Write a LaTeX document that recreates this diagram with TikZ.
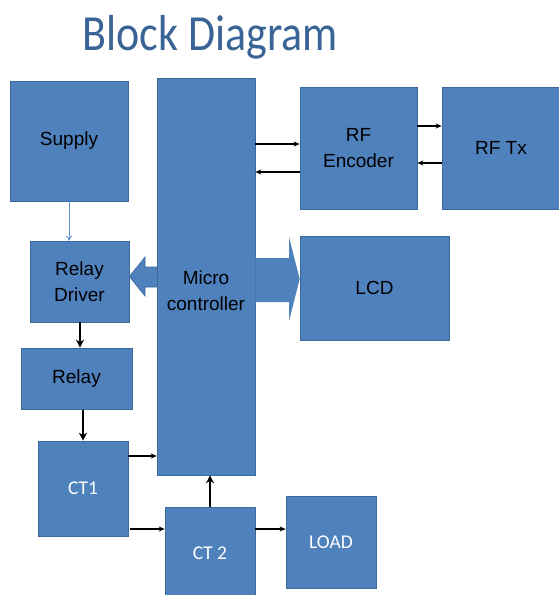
\documentclass[tikz,border=0pt]{standalone}
\usepackage{fontspec}
\setmainfont{Liberation Sans}
\newfontfamily\calib{Carlito}
\usetikzlibrary{arrows.meta}
\definecolor{boxblue}{HTML}{4F81BD}
\definecolor{boxedge}{HTML}{3C6A9E}
\definecolor{titleblue}{HTML}{3A6496}
\definecolor{thinblue}{HTML}{5B8FD0}
\tikzset{
  box/.style={rectangle, fill=boxblue, draw=boxedge, line width=0.6pt, inner sep=0pt, align=center,
    font=\fontsize{19}{26}\selectfont},
  wbox/.style={box, text=white, font=\calib\fontsize{19.5}{22}\selectfont},
  thinarr/.style={-{Stealth[length=6pt,width=5pt]}, line width=1.3pt, black},
  thickarr/.style={-{Stealth[length=8pt,width=8pt]}, line width=2.8pt, black},
  fatarrow/.style={fill=boxblue, draw=boxedge, line width=0.6pt}
}
\begin{document}
\begin{tikzpicture}[x=1pt,y=-1pt]
\useasboundingbox (0,0) rectangle (559,595);
\node[anchor=base, text=titleblue, font=\calib\fontsize{44}{50}\selectfont] (title) at (210,50) {\scalebox{1}[1.15]{Block Diagram}};
\node[box, minimum width=118, minimum height=120] (supply) at (69,141) {Supply};
\node[box, minimum width=98, minimum height=397] (micro) at (206,276.5) {};
\node[font=\fontsize{19}{26}\selectfont, align=center] (microtxt) at (206,291) {Micro\\controller};
\node[box, minimum width=99, minimum height=81] (driver) at (79.5,281.5) {Relay\\Driver};
\node[box, minimum width=111, minimum height=61] (relay) at (76.5,378.5) {Relay};
\node[wbox, minimum width=90, minimum height=95] (ct1) at (83,488.5) {CT1};
\node[wbox, minimum width=90, minimum height=92] (ct2) at (210,553) {CT 2};
\node[wbox, minimum width=90, minimum height=92] (load) at (331,542) {LOAD};
\node[box, minimum width=117, minimum height=122] (enc) at (358.5,148) {RF\\Encoder};
\node[box, minimum width=118, minimum height=122] (tx) at (501,148) {RF Tx};
\node[box, minimum width=149, minimum height=104] (lcd) at (374.5,288) {LCD};
% fat arrows
\draw[fatarrow] (micro.west |- 0,267) -- (145,267) -- (145,257) -- (driver.east |- 0,276.5) -- (145,296) -- (145,287) -- (micro.west |- 0,287) -- cycle;
\fill[boxblue] (micro.east |- 0,258) -- (289,258) -- (289,237) -- (lcd.west |- 0,279) -- (289,321) -- (289,302) -- (micro.east |- 0,302) -- cycle;
% thin arrows
\draw[-{To[length=5pt,width=6pt]}, thinblue, line width=0.8pt] (supply.south) -- (driver.north -| supply.south);
\draw[thinarr] (micro.east |- 0,144) -- (enc.west |- 0,144);
\draw[thinarr] (enc.west |- 0,172) -- (micro.east |- 0,172);
\draw[thinarr] (enc.east |- 0,126) -- (tx.west |- 0,126);
\draw[thinarr] (tx.west |- 0,163) -- (enc.east |- 0,163);
\draw[thinarr] (ct1.east |- 0,456) -- (micro.west |- 0,456);
\draw[thinarr] (130,529) coordinate (c1) -- (ct2.west |- c1);
\draw[thinarr] (ct2.east |- 0,529) -- (load.west |- 0,529);
% thick arrows
\draw[thickarr] (80,322) coordinate (d1) -- (d1 |- relay.north);
\draw[thickarr] (83,409.5) coordinate (r1) -- (r1 |- ct1.north);
\draw[thickarr] (ct2.north) -- (micro.south -| ct2.north);
\end{tikzpicture}
\end{document}
